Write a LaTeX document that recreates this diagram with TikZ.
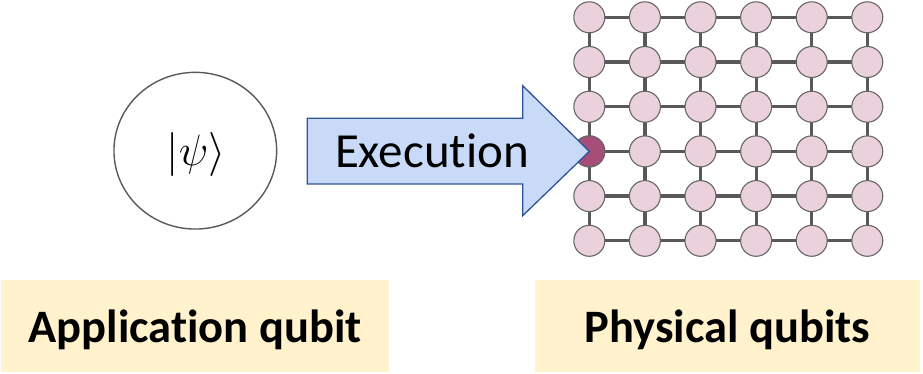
\RequirePackage{fix-cm}
\documentclass[tikz,border=0pt]{standalone}
\usepackage{fontspec}
\setmainfont[Ligatures=NoCommon, RawFeature={-liga;-calt;-dlig}]{Carlito}
\usetikzlibrary{shapes.geometric}
\definecolor{qpink}{HTML}{EAD1DC}
\definecolor{qdark}{HTML}{A64D79}
\definecolor{qedge}{HTML}{595959}
\definecolor{qring}{HTML}{666666}
\definecolor{arrfill}{HTML}{C9DAF8}
\definecolor{arrline}{HTML}{2F5597}
\definecolor{labelbg}{HTML}{FFF2CC}
\tikzset{
  qubit/.style={circle, draw=qring, line width=1.1pt, fill=qpink, minimum size=31pt, inner sep=0pt},
  active/.style={qubit, fill=qdark},
  link/.style={draw=qedge, line width=3.2pt},
  labelbox/.style={fill=labelbg, minimum height=92pt, inner sep=0pt,
    font=\fontsize{46.5}{50}\selectfont\bfseries, text height=33pt, text depth=0pt},
}
\begin{document}
\begin{tikzpicture}[x=1pt, y=-1pt]
  \useasboundingbox (0,0) rectangle (923,374);

  % application qubit
  \node[ellipse, draw=qedge, line width=1.4pt, minimum width=162.7pt, minimum height=156.7pt, inner sep=0pt]
    (state) at (195.3,150.7) {};
  \node[font=\fontsize{44}{48}\selectfont] (ket) at (196,155) {$|\psi\rangle$};

  % lattice of physical qubits
  \foreach \i in {0,...,5} {
    \foreach \j in {0,...,5} {
      \coordinate (p-\i-\j) at ({589.3+55.6*\i},{17.3+44.7*\j});
    }
  }
  \foreach \i in {0,...,5} {
    \foreach \j [evaluate=\j as \k using int(\j+1)] in {0,...,4} {
      \draw[link] (p-\i-\j) -- (p-\i-\k);
      \draw[link] (p-\j-\i) -- (p-\k-\i);
    }
  }
  \foreach \i in {0,...,5} {
    \foreach \j in {0,...,5} {
      \node[qubit] (q-\i-\j) at (p-\i-\j) {};
    }
  }
  \node[active] (q-0-3) at (p-0-3) {};

  % execution arrow
  \path[fill=arrfill, draw=arrline, line width=1.3pt, line join=miter]
    (307.3,118.3) -- (522.7,118.3) -- (522.7,85.7) -- (q-0-3.center)
    -- (522.7,215.7) -- (522.7,184) -- (307.3,184) -- cycle;
  \node[font=\fontsize{49}{53}\selectfont, anchor=base] (exec) at (432,167.3) {Execution};

  % captions
  \node[labelbox, minimum width=388pt] (app) at (195,326) {Application qubit};
  \node[labelbox, minimum width=385pt] (phys) at (727.5,326) {Physical qubits};
\end{tikzpicture}
\end{document}
